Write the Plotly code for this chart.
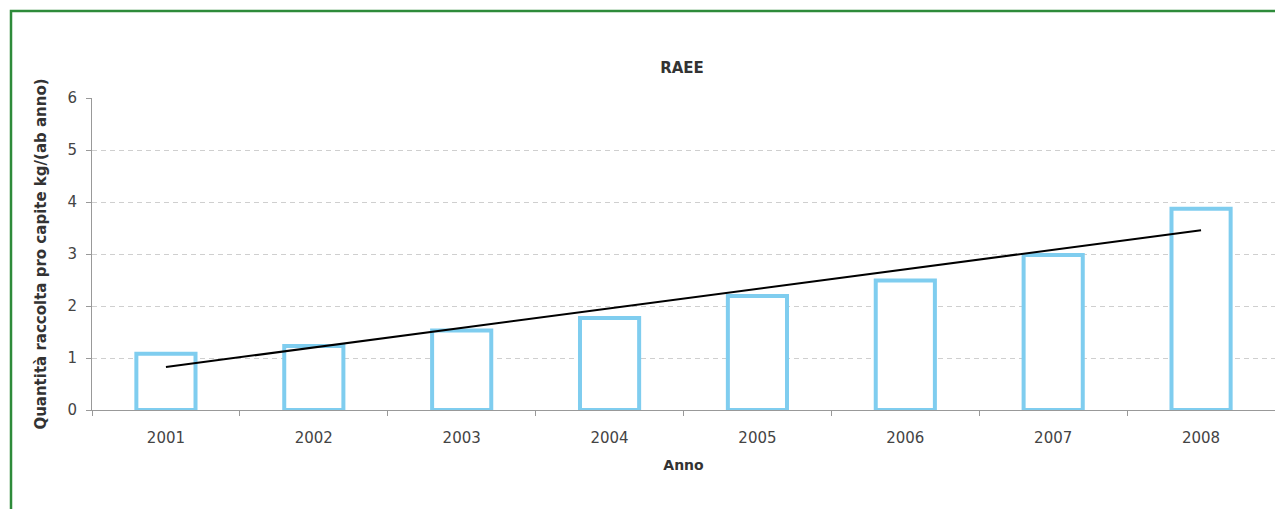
import numpy as np
import plotly.graph_objects as go

anni = ["2001", "2002", "2003", "2004", "2005", "2006", "2007", "2008"]
raee = [1.08, 1.23, 1.53, 1.77, 2.19, 2.49, 2.98, 3.87]
y_ticks = [0, 1, 2, 3, 4, 5, 6]

xi = np.arange(len(anni))
slope, intercept = np.polyfit(xi, raee, 1)
trend = list(slope * xi + intercept)

# page has an 8px body margin; figure origin is at (8, 8)
W, H = 1267, 501
L, R, T, B = 84, 0, 90, 99
PW = W - L - R
PH = H - T - B

FONT = "DejaVu Sans"
fig = go.Figure()
fig.add_trace(go.Bar(
    x=anni, y=raee, width=0.40,
    marker=dict(color="white", line=dict(color="#7fcdef", width=4)),
    showlegend=False, hoverinfo="x+y",
))
fig.add_trace(go.Scatter(
    x=anni, y=trend, mode="lines",
    line=dict(color="black", width=2), showlegend=False,
))

fig.update_layout(
    width=W, height=H,
    margin=dict(l=L, r=R, t=T, b=B, pad=0),
    paper_bgcolor="white", plot_bgcolor="white",
    font=dict(family=FONT, color="#444444", size=14),
    title=dict(text="<b>RAEE</b>", x=(682 - 8) / W, xanchor="center",
               y=1 - (68 - 8) / H, yanchor="middle",
               font=dict(family=FONT, size=15, color="#333333")),
    xaxis=dict(
        type="category", tickson="boundaries", ticks="outside", ticklen=5,
        tickcolor="#999999", showline=True, linecolor="#999999", linewidth=1,
        showgrid=False, tickfont=dict(size=15, color="#444444"),
        ticklabelstandoff=14,
        title=dict(text="<b>Anno</b>", standoff=14,
                   font=dict(size=14, color="#333333")),
    ),
    yaxis=dict(
        range=[0, 6], tickvals=y_ticks, ticks="outside", ticklen=5,
        tickcolor="#999999", showline=True, linecolor="#999999", linewidth=1,
        mirror=True, showgrid=True, gridcolor="#cfcfcf", griddash="5px,4px",
        gridwidth=1, zeroline=False, tickfont=dict(size=15, color="#444444"),
        ticklabelstandoff=6,
        title=dict(text="<b>Quantità raccolta pro capite kg/(ab anno)</b>",
                   standoff=17, font=dict(size=15, color="#333333")),
    ),
    shapes=[dict(
        type="rect", xref="paper", yref="paper",
        x0=(11 - 8 - L) / PW, x1=1.2, y0=-0.6, y1=(H - B - (11 - 8)) / PH,
        line=dict(color="#2e8b3a", width=2.5), fillcolor="rgba(0,0,0,0)",
        layer="below",
    )],
)

fig.write_html("out.html")
